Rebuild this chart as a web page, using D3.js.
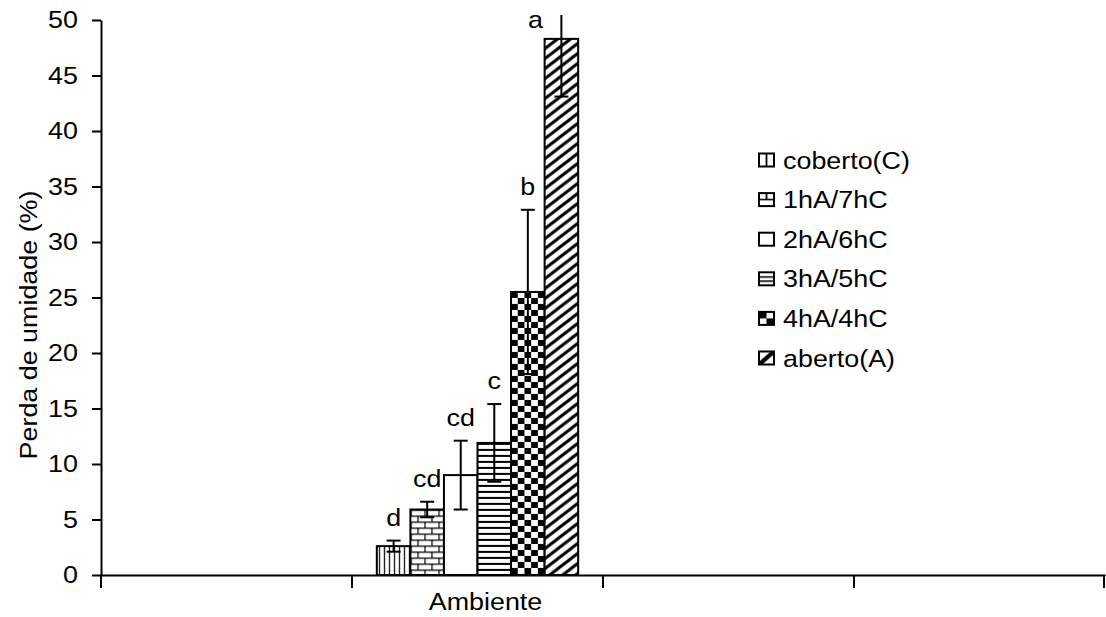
<!DOCTYPE html>
<html>
<head>
<meta charset="utf-8">
<script src="https://cdn.jsdelivr.net/npm/d3@7"></script>
<style>
  body { margin: 0; background: #fff; }
  text { font-family: "Liberation Sans", Arial, sans-serif; fill: #000; }
</style>
</head>
<body>
<div id="chart-area"></div>
<script>
// data
var groups = ["g1", "g2", "g3", "g4"];
var groupLabels = ["", "Ambiente", "", ""];
var dataGroup = "g2";
var series = ["coberto(C)", "1hA/7hC", "2hA/6hC", "3hA/5hC", "4hA/4hC", "aberto(A)"];
var means = [2.6, 5.9, 9.0, 11.9, 25.5, 48.3];
var errors = [0.5, 0.7, 3.1, 3.5, 7.4, 5.2];
var letters = ["d", "cd", "cd", "c", "b", "a"];
var yTicks = [0, 5, 10, 15, 20, 25, 30, 35, 40, 45, 50];

var W = 1106, H = 617;
var margin = { left: 101, right: 1, top: 20, bottom: 42 };
var FS = 24, SX = 1.12;   // text is a little wide in the original

var svg = d3.select("#chart-area").append("svg")
    .attr("width", W).attr("height", H);

var defs = svg.append("defs");

function pat(id, w, h) {
  var p = defs.append("pattern").attr("id", id)
      .attr("patternUnits", "userSpaceOnUse")
      .attr("width", w).attr("height", h);
  p.append("rect").attr("width", w).attr("height", h).attr("fill", "#fff");
  return p;
}
// vertical lines
pat("p0", 5, 10).append("rect").attr("x", 2).attr("y", 0).attr("width", 1.2).attr("height", 10).attr("fill", "#000");
// bricks
pat("p1", 14, 12).append("path")
    .attr("d", "M0,0.6H14M0,6.6H14M0.6,0V6.6M7.6,6.6V12")
    .attr("stroke", "#000").attr("stroke-width", 1.3).attr("fill", "none");
// plain white
pat("p2", 4, 4);
// horizontal lines
pat("p3", 10, 6).append("rect").attr("x", 0).attr("y", 0).attr("width", 10).attr("height", 2).attr("fill", "#000");
// checkerboard
var pc = pat("p4", 13.4, 12);
pc.append("rect").attr("x", 0).attr("y", 0).attr("width", 6.7).attr("height", 6).attr("fill", "#000");
pc.append("rect").attr("x", 6.7).attr("y", 6).attr("width", 6.7).attr("height", 6).attr("fill", "#000");
// diagonal /
pat("p5", 13, 10).append("path")
    .attr("d", "M0,10L13,0M-2.6,2L2.6,-2M10.4,12L15.6,8")
    .attr("stroke", "#000").attr("stroke-width", 3).attr("fill", "none");

// legend swatches: the same hatches drawn at swatch scale
function lpat(id) {
  var p = defs.append("pattern").attr("id", id)
      .attr("patternUnits", "objectBoundingBox")
      .attr("patternContentUnits", "objectBoundingBox")
      .attr("width", 1).attr("height", 1);
  p.append("rect").attr("width", 1).attr("height", 1).attr("fill", "#fff");
  return p;
}
lpat("l0").append("rect").attr("x", 0.44).attr("y", 0).attr("width", 0.12).attr("height", 1).attr("fill", "#000");
var l1 = lpat("l1");
l1.append("rect").attr("x", 0).attr("y", 0.44).attr("width", 1).attr("height", 0.12).attr("fill", "#000");
l1.append("rect").attr("x", 0.44).attr("y", 0).attr("width", 0.12).attr("height", 0.5).attr("fill", "#000");
lpat("l2");
var l3 = lpat("l3");
l3.append("rect").attr("x", 0).attr("y", 0.3).attr("width", 1).attr("height", 0.12).attr("fill", "#000");
l3.append("rect").attr("x", 0).attr("y", 0.62).attr("width", 1).attr("height", 0.12).attr("fill", "#000");
var l4 = lpat("l4");
l4.append("rect").attr("x", 0).attr("y", 0).attr("width", 0.5).attr("height", 0.5).attr("fill", "#000");
l4.append("rect").attr("x", 0.5).attr("y", 0.5).attr("width", 0.5).attr("height", 0.5).attr("fill", "#000");
lpat("l5").append("polygon")
    .attr("points", "0,0.78 0.78,0 1,0 1,0.22 0.22,1 0,1").attr("fill", "#000");

function label(sel, x, y, txt, anchor, rot) {
  return sel.append("text")
      .attr("transform", "translate(" + x + "," + y + ")" + (rot ? " rotate(" + rot + ")" : "") + " scale(" + SX + ",1)")
      .attr("text-anchor", anchor || "start")
      .attr("font-size", FS)
      .text(txt);
}

var x = d3.scaleBand().domain(groups)
    .range([margin.left, W - margin.right])
    .paddingInner(0).paddingOuter(0);

var xs = d3.scaleBand().domain(series)
    .range([0, x.bandwidth()])
    .paddingInner(0).paddingOuter(0.74);

var y = d3.scaleLinear().domain([0, 50])
    .range([H - margin.bottom, margin.top]);

var y0 = y(0);

// clip so error bars above 50 are cut
defs.append("clipPath").attr("id", "plotClip").append("rect")
    .attr("x", margin.left).attr("y", y(50) - 5)
    .attr("width", W - margin.left).attr("height", y0 - y(50) + 5);

// bars
var gx = x(dataGroup);
var bars = svg.append("g").selectAll("g.bar")
    .data(series)
    .enter().append("g")
    .attr("class", "bar")
    .attr("transform", (d, i) => "translate(" + (gx + xs(d)) + "," + y(means[i]) + ")");

bars.append("rect")
    .attr("width", xs.bandwidth())
    .attr("height", (d, i) => y0 - y(means[i]))
    .attr("fill", (d, i) => "url(#p" + i + ")")
    .attr("stroke", "#000")
    .attr("stroke-width", 2);

// error bars
var eb = svg.append("g").attr("clip-path", "url(#plotClip)");
series.forEach(function (s, i) {
  var cx = gx + xs(s) + xs.bandwidth() / 2;
  var top = y(means[i] + errors[i]), bot = y(means[i] - errors[i]);
  eb.append("line").attr("x1", cx).attr("x2", cx).attr("y1", top).attr("y2", bot)
      .attr("stroke", "#000").attr("stroke-width", 2);
  [top, bot].forEach(function (yy) {
    eb.append("line").attr("x1", cx - 7).attr("x2", cx + 7).attr("y1", yy).attr("y2", yy)
        .attr("stroke", "#000").attr("stroke-width", 2);
  });
});

// significance letters
series.forEach(function (s, i) {
  var cx = gx + xs(s) + xs.bandwidth() / 2;
  var topV = means[i] + errors[i];
  if (topV > 50) {
    label(svg, cx - 26, y(50) + 8, letters[i], "middle");
  } else {
    label(svg, cx, y(topV) - 15, letters[i], "middle");
  }
});

// y axis
var yAxis = d3.axisLeft(y).tickValues(yTicks).tickSize(9).tickSizeOuter(0).tickPadding(14);
var ga = svg.append("g").attr("transform", "translate(" + margin.left + ",0)").call(yAxis);
ga.selectAll("line, path").attr("stroke", "#000").attr("stroke-width", 2);
ga.selectAll("text")
    .attr("x", null)
    .attr("transform", "translate(-23,0) scale(" + SX + ",1)")
    .attr("font-size", FS)
    .style("font-family", "'Liberation Sans', Arial, sans-serif");

// x axis
var xAxis = d3.axisBottom(x).tickSize(0).tickPadding(0)
    .tickFormat((d, i) => groupLabels[i]);
var gxa = svg.append("g").attr("transform", "translate(0," + y0 + ")").call(xAxis);
gxa.select("path").attr("stroke", "#000").attr("stroke-width", 2);
gxa.selectAll("text")
    .attr("y", null).attr("dy", null)
    .attr("transform", "translate(8,35) scale(" + SX + ",1)")
    .attr("font-size", FS)
    .style("font-family", "'Liberation Sans', Arial, sans-serif");

var bounds = groups.map(g => x(g)).concat([x.range()[1] - 1]);
svg.append("g").selectAll("line").data(bounds).enter().append("line")
    .attr("x1", d => d).attr("x2", d => d)
    .attr("y1", y0).attr("y2", y0 + 13)
    .attr("stroke", "#000").attr("stroke-width", 2);

// y label
label(svg, 37, 325, "Perda de umidade (%)", "middle", -90);

// legend
var legend = svg.append("g").selectAll("g.leg")
    .data(series).enter().append("g")
    .attr("class", "leg")
    .attr("transform", (d, i) => "translate(759," + (160 + i * 39.6) + ")");

legend.append("rect")
    .attr("y", -6.5)
    .attr("width", 15).attr("height", 13)
    .attr("fill", (d, i) => "url(#l" + i + ")")
    .attr("stroke", "#000").attr("stroke-width", 2);

legend.each(function (d) {
  label(d3.select(this), 24, 8.5, d, "start");
});
</script>
</body>
</html>
